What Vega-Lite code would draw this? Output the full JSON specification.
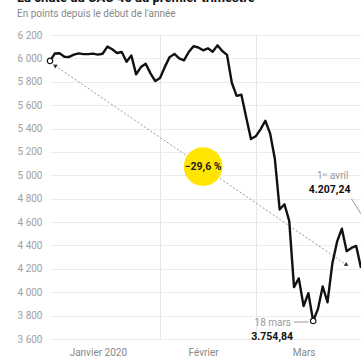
{
  "$schema": "https://vega.github.io/schema/vega-lite/v6.json",
  "width": 311,
  "height": 304,
  "autosize": {"type": "none"},
  "padding": {"left": 50, "top": 35, "right": 0, "bottom": 19},
  "background": "white",
  "title": {
    "text": "La chute du CAC 40 au premier trimestre",
    "subtitle": "En points depuis le début de l'année",
    "anchor": "start",
    "frame": "bounds",
    "fontSize": 13,
    "fontWeight": "bold",
    "color": "#111",
    "subtitleFontSize": 10,
    "subtitleColor": "#888",
    "subtitlePadding": 4,
    "offset": 11
  },
  "config": {"view": {"stroke": null}, "font": "Roboto"},
  "data": {
    "values": [
      {"date": "2019-12-31", "value": 5978.06},
      {"date": "2020-01-02", "value": 6041.5},
      {"date": "2020-01-03", "value": 6044.16},
      {"date": "2020-01-06", "value": 6013.59},
      {"date": "2020-01-07", "value": 6012.35},
      {"date": "2020-01-08", "value": 6031.86},
      {"date": "2020-01-09", "value": 6042.56},
      {"date": "2020-01-10", "value": 6036.83},
      {"date": "2020-01-13", "value": 6036.13},
      {"date": "2020-01-14", "value": 6040.74},
      {"date": "2020-01-15", "value": 6032.61},
      {"date": "2020-01-16", "value": 6039.84},
      {"date": "2020-01-17", "value": 6100.72},
      {"date": "2020-01-20", "value": 6078.54},
      {"date": "2020-01-21", "value": 6045.97},
      {"date": "2020-01-22", "value": 6054.66},
      {"date": "2020-01-23", "value": 5971.8},
      {"date": "2020-01-24", "value": 6024.26},
      {"date": "2020-01-27", "value": 5863.02},
      {"date": "2020-01-28", "value": 5925.82},
      {"date": "2020-01-29", "value": 5954.68},
      {"date": "2020-01-30", "value": 5871.77},
      {"date": "2020-01-31", "value": 5806.34},
      {"date": "2020-02-03", "value": 5832.51},
      {"date": "2020-02-04", "value": 5927.17},
      {"date": "2020-02-05", "value": 6010.75},
      {"date": "2020-02-06", "value": 6038.18},
      {"date": "2020-02-07", "value": 5999.63},
      {"date": "2020-02-10", "value": 5983.08},
      {"date": "2020-02-11", "value": 6054.76},
      {"date": "2020-02-12", "value": 6104.73},
      {"date": "2020-02-13", "value": 6093.14},
      {"date": "2020-02-14", "value": 6069.35},
      {"date": "2020-02-17", "value": 6085.95},
      {"date": "2020-02-18", "value": 6056.82},
      {"date": "2020-02-19", "value": 6111.24},
      {"date": "2020-02-20", "value": 6062.95},
      {"date": "2020-02-21", "value": 6029.72},
      {"date": "2020-02-24", "value": 5791.87},
      {"date": "2020-02-25", "value": 5679.68},
      {"date": "2020-02-26", "value": 5688.66},
      {"date": "2020-02-27", "value": 5495.6},
      {"date": "2020-02-28", "value": 5309.9},
      {"date": "2020-03-02", "value": 5333.52},
      {"date": "2020-03-03", "value": 5393.35},
      {"date": "2020-03-04", "value": 5466.36},
      {"date": "2020-03-05", "value": 5359.0},
      {"date": "2020-03-06", "value": 5139.11},
      {"date": "2020-03-09", "value": 4707.91},
      {"date": "2020-03-10", "value": 4752.39},
      {"date": "2020-03-11", "value": 4610.41},
      {"date": "2020-03-12", "value": 4044.26},
      {"date": "2020-03-13", "value": 4118.36},
      {"date": "2020-03-16", "value": 3881.46},
      {"date": "2020-03-17", "value": 3991.78},
      {"date": "2020-03-18", "value": 3754.84},
      {"date": "2020-03-19", "value": 3855.5},
      {"date": "2020-03-20", "value": 4048.8},
      {"date": "2020-03-23", "value": 3914.31},
      {"date": "2020-03-24", "value": 4242.7},
      {"date": "2020-03-25", "value": 4432.3},
      {"date": "2020-03-26", "value": 4543.58},
      {"date": "2020-03-27", "value": 4351.49},
      {"date": "2020-03-30", "value": 4378.51},
      {"date": "2020-03-31", "value": 4396.12},
      {"date": "2020-04-01", "value": 4207.24}
    ]
  },
  "encoding": {
    "x": {
      "field": "date",
      "type": "ordinal",
      "scale": {"type": "point", "padding": 0},
      "axis": {
        "title": null,
        "values": ["2020-01-15", "2020-02-03", "2020-02-14", "2020-03-02", "2020-03-16"],
        "labelExpr": "datum.value == '2020-01-15' ? 'Janvier 2020' : datum.value == '2020-02-14' ? 'Février' : datum.value == '2020-03-16' ? 'Mars' : ''",
        "grid": true,
        "gridColor": "#e6e6e6",
        "gridOpacity": {"condition": {"test": "datum.value == '2020-02-03' || datum.value == '2020-03-02'", "value": 1}, "value": 0},
        "domain": false,
        "ticks": false,
        "labelAngle": 0,
        "labelColor": "#888",
        "labelFontSize": 10,
        "labelPadding": 8,
        "labelOverlap": false
      }
    },
    "y": {
      "field": "value",
      "type": "quantitative",
      "scale": {"domain": [3600, 6200], "nice": false, "zero": false},
      "axis": {
        "title": null,
        "values": [3600, 3800, 4000, 4200, 4400, 4600, 4800, 5000, 5200, 5400, 5600, 5800, 6000, 6200],
        "labelExpr": "replace(format(datum.value, ','), ',', ' ')",
        "grid": true,
        "gridColor": "#ececec",
        "domain": false,
        "ticks": false,
        "labelColor": "#a0a0a0",
        "labelFontSize": 10,
        "labelPadding": 8
      }
    }
  },
  "layer": [
    {
      "data": {"values": [{"date": "2020-01-02", "value": 5939, "date2": "2020-03-27", "value2": 4233}]},
      "mark": {"type": "rule", "color": "#999", "strokeWidth": 1, "strokeDash": [2, 2]},
      "encoding": {"x2": {"field": "date2"}, "y2": {"field": "value2"}}
    },
    {
      "mark": {"type": "line", "color": "#111", "strokeWidth": 2.4, "strokeJoin": "round"}
    },
    {
      "data": {"values": [{"date": "2020-01-02", "value": 5939}]},
      "mark": {"type": "point", "shape": "triangle-up", "angle": 304, "filled": true, "color": "#333", "size": 22, "opacity": 1}
    },
    {
      "data": {"values": [{"date": "2020-03-27", "value": 4233}]},
      "mark": {"type": "point", "shape": "triangle-up", "angle": 124, "filled": true, "color": "#333", "size": 22, "opacity": 1}
    },
    {
      "data": {"values": [{"date": "2020-02-14", "value": 5075, "label": "−29,6 %"}]},
      "layer": [
        {"mark": {"type": "point", "shape": "circle", "filled": true, "color": "#ffe500", "size": 1500, "opacity": 1}},
        {"mark": {"type": "text", "fontSize": 10.5, "fontWeight": "bold", "color": "#222"}, "encoding": {"text": {"field": "label"}}}
      ]
    },
    {
      "data": {"values": [{"date": "2019-12-31", "value": 5978.06}, {"date": "2020-03-18", "value": 3754.84}]},
      "mark": {"type": "point", "shape": "circle", "filled": true, "fill": "white", "stroke": "#111", "strokeWidth": 1.2, "size": 30, "opacity": 1}
    },
    {
      "data": {"values": [
        {"date": "2020-03-12", "value": 3745, "date2": "2020-03-17", "value2": 3745},
        {"date": "2020-03-30", "value": 4800, "date2": "2020-04-01", "value2": 4670}
      ]},
      "mark": {"type": "rule", "color": "#999", "strokeWidth": 1},
      "encoding": {"x2": {"field": "date2"}, "y2": {"field": "value2"}}
    },
    {
      "data": {"values": [
        {"date": "2020-03-12", "value": 3737, "label": "18 mars"},
        {"date": "2020-03-30", "value": 4994, "label": "1ᵉʳ avril"}
      ]},
      "mark": {"type": "text", "align": "right", "dx": -3, "fontSize": 10, "color": "#999"},
      "encoding": {"text": {"field": "label"}}
    },
    {
      "data": {"values": [
        {"date": "2020-03-12", "value": 3617, "label": "3.754,84"},
        {"date": "2020-03-30", "value": 4874, "label": "4.207,24"}
      ]},
      "mark": {"type": "text", "align": "right", "dx": -1, "fontSize": 10.5, "fontWeight": "bold", "color": "#111"},
      "encoding": {"text": {"field": "label"}}
    }
  ]
}
